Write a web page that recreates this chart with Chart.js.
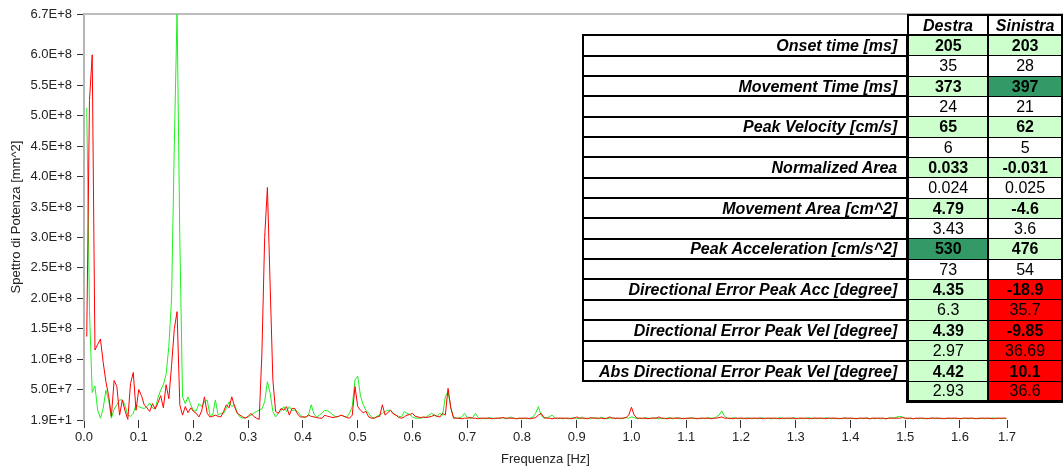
<!DOCTYPE html>
<html>
<head>
<meta charset="utf-8">
<script src="https://cdn.jsdelivr.net/npm/chart.js@4/dist/chart.umd.min.js"></script>
<style>
  html, body { margin:0; padding:0; background:#fff; }
  #wrap { position:relative; width:1063px; height:468px; overflow:hidden; }
  #grafico { display:block; }
  #tabella { position:absolute; left:582px; top:14px; border-collapse:collapse; table-layout:fixed;
             font-family:'Liberation Sans', Arial, sans-serif; font-size:16px; color:#000; }
  #tabella tr { height:20.35px; }
  #tabella td { padding:0; line-height:17px; white-space:nowrap; overflow:hidden; }
  #tabella td.etichetta { border:2px solid #000; text-align:right; font-weight:bold; font-style:italic; padding-right:9px; background:#fff; }
  #tabella td.vuota { border:none; }
  #tabella td.intest { border:2px solid #000; font-weight:bold; font-style:italic; text-align:center; background:#fff; }
  #tabella td.val { text-align:center; border-left:2px solid #000; border-right:2px solid #000;
                    border-top:1px solid #000; border-bottom:1px solid #000; background:#fff; }
  #tabella td.dx { border-left:3px solid #000; }
  #tabella td.media { font-weight:bold; }
  #tabella td.ultima { border-bottom:3px solid #000; }
  #tabella td.g { background:#ccffcc; }
  #tabella td.G { background:#339966; }
  #tabella td.r { background:#ff0000; }
</style>
</head>
<body>
<div id="wrap">
  <canvas id="grafico" width="1063" height="468"></canvas>
  <table id="tabella"></table>
</div>
<script>
// ---------- Spectrum data (values in units of 1E+6 mm^2), frequency step 0.005 Hz starting at 0.005 Hz ----------
const FREQ_START = 0.005;
const FREQ_STEP = 0.005;

const spettroSinistra = [
137,525,600,115,124,133,95,63,40,6,
65,55,8,33,15,1,60,78,16,50,
40,25,20,14,27,18,28,40,20,58,
35,90,150,178,25,8,22,12,20,14,
11,5,15,38,11,5,6,8,6,5,
14,25,20,38,22,11,8,5,3,6,
11,6,3,1,110,300,382,222,66,14,
11,19,16,22,8,19,19,10,5,5,
5,8,6,5,4,3,3,8,6,5,
4,5,6,8,6,4,3,8,55,22,
16,12,14,5,3,3,5,6,25,8,
12,16,10,8,4,3,5,8,9,11,
6,5,4,5,4,5,6,8,6,5,
11,8,52,20,3,
3,3,2,3,3,4,3,3,2,3,
3,3,3,2,3,3,3,4,3,3,
3,3,2,3,3,3,3,2,3,4,
8,11,4,3,3,2,3,3,3,3,
3,3,2,3,5,3,3,3,2,4,
3,3,3,3,2,3,5,3,3,3,
3,3,4,8,21,8,3,3,3,3,
2,3,3,3,5,3,3,2,3,3,
3,3,3,2,3,3,3,3,2,3,
3,3,3,2,3,3,4,5,3,3,
3,2,3,3,3,3,2,3,3,3,
3,3,2,3,3,3,3,3,2,3,
3,3,3,3,2,3,3,3,3,2,
3,3,3,3,3,2,3,3,3,3,
2,3,3,3,3,3,2,3,3,3,
3,2,3,3,3,3,3,2,3,3,
3,3,3,4,3,3,3,2,3,3,
3,3,2,3,3,3,3,3,2,3,
3,3,3,3,2,3,3,3,3,3,
2,3,3,3,3,3,2,3,3,3,
3,3
];

const spettroDestra = [
513,180,45,56,16,3,19,49,33,3,
18,25,33,33,24,8,6,11,25,22,
20,19,22,28,20,18,36,49,58,75,
121,200,454,670,300,38,27,38,25,15,
15,27,22,30,33,8,8,33,8,11,
11,19,30,22,25,11,5,3,4,5,
8,11,14,16,18,30,63,44,14,5,
11,16,22,14,22,16,16,14,8,5,
4,8,25,10,5,8,12,16,15,12,
8,5,6,8,6,5,11,22,66,72,
40,25,16,11,5,3,6,8,11,14,
16,16,11,8,6,5,14,11,9,5,
3,3,3,4,5,8,11,8,6,11,
8,38,47,20,5,
3,3,5,11,4,3,4,11,4,2,
3,2,4,3,2,3,3,4,2,3,
5,3,2,3,2,3,2,3,5,11,
22,8,3,4,5,8,4,2,3,2,
3,2,3,4,2,3,5,2,3,2,
4,3,2,5,3,2,3,4,2,3,
2,3,4,3,5,4,2,3,2,4,
3,2,4,3,2,3,2,3,4,2,
3,4,2,3,2,3,4,2,3,2,
3,2,4,3,3,5,8,15,6,3,
2,4,3,2,3,2,4,3,2,3,
2,3,4,2,3,2,3,2,4,3,
2,3,2,4,3,2,3,2,3,4,
2,3,2,3,2,4,3,2,3,2,
3,2,4,2,3,2,3,2,3,2,
4,2,3,2,3,2,3,2,3,4,
3,5,6,5,3,2,3,2,3,2,
3,2,3,2,4,2,3,2,3,2,
3,2,3,2,3,2,3,2,3,2,
3,2,3,2,3,2,4,2,3,2,
3,2
];

// Axis ticks
const xTickValori = [0,0.1,0.2,0.3,0.4,0.5,0.6,0.7,0.8,0.9,1.0,1.1,1.2,1.3,1.4,1.5,1.6,1.686];
const xTickEtichette = ['0.0','0.1','0.2','0.3','0.4','0.5','0.6','0.7','0.8','0.9','1.0','1.1','1.2','1.3','1.4','1.5','1.6','1.7'];
const yTickValori = [19,5e7,1e8,1.5e8,2e8,2.5e8,3e8,3.5e8,4e8,4.5e8,5e8,5.5e8,6e8,6.67e8];
const yTickEtichette = ['1.9E+1','5.0E+7','1.0E+8','1.5E+8','2.0E+8','2.5E+8','3.0E+8','3.5E+8','4.0E+8','4.5E+8','5.0E+8','5.5E+8','6.0E+8','6.7E+8'];

// ---------- Table data ----------
const parametri = ['Onset time [ms]','Movement Time [ms]','Peak Velocity [cm/s]','Normalized Area','Movement Area [cm^2]',
  'Peak Acceleration [cm/s^2]','Directional Error Peak Acc [degree]','Directional Error Peak Vel [degree]','Abs Directional Error Peak Vel [degree]'];
const destraMedia   = ['205','373','65','0.033','4.79','530','4.35','4.39','4.42'];
const destraDS      = ['35','24','6','0.024','3.43','73','6.3','2.97','2.93'];
const sinistraMedia = ['203','397','62','-0.031','-4.6','476','-18.9','-9.85','10.1'];
const sinistraDS    = ['28','21','5','0.025','3.6','54','35.7','36.69','36.6'];
// cell status: g = in range (light green), G = above (dark green), r = out of range (red), '' = none
const destraMediaStato   = ['g','g','g','g','g','G','g','g','g'];
const destraDSStato      = ['','','','','','','g','g','g'];
const sinistraMediaStato = ['g','G','g','g','g','g','r','r','r'];
const sinistraDSStato    = ['','','','','','','r','r','r'];

// ---------- Build table ----------
(function () {
  const t = document.getElementById('tabella');
  const cg = document.createElement('colgroup');
  [325, 81, 74].forEach(w => { const c = document.createElement('col'); c.style.width = w + 'px'; cg.appendChild(c); });
  t.appendChild(cg);
  const addRow = (cells) => {
    const tr = document.createElement('tr');
    cells.forEach(([txt, cls]) => { const td = document.createElement('td'); td.className = cls; td.textContent = txt; tr.appendChild(td); });
    t.appendChild(tr);
  };
  addRow([['', 'vuota'], ['Destra', 'intest'], ['Sinistra', 'intest']]);
  parametri.forEach((p, i) => {
    addRow([[p, 'etichetta'], [destraMedia[i], 'val dx media ' + destraMediaStato[i]], [sinistraMedia[i], 'val media ' + sinistraMediaStato[i]]]);
    const last = i === parametri.length - 1;
    addRow([['', last ? 'vuota' : 'etichetta'], [destraDS[i], 'val dx ' + destraDSStato[i] + (last ? ' ultima' : '')], [sinistraDS[i], 'val ' + sinistraDSStato[i] + (last ? ' ultima' : '')]]);
  });
})();

// ---------- Chart ----------
const frequenze = spettroDestra.map((_, k) => +(FREQ_START + k * FREQ_STEP).toFixed(4));
const punti = (serie) => serie.map((v, k) => ({ x: frequenze[k], y: v * 1e6 }));

const bordoSuperiore = {
  id: 'bordoSuperiore',
  beforeDatasetsDraw(chart) {
    const { ctx, chartArea } = chart;
    ctx.save();
    ctx.strokeStyle = '#bdbdbd';
    ctx.lineWidth = 2;
    ctx.beginPath();
    ctx.moveTo(chartArea.left, chartArea.top);
    ctx.lineTo(chart.width, chartArea.top);
    ctx.stroke();
    ctx.restore();
  }
};

const fontTick = { family: "'Liberation Sans', Arial, sans-serif", size: 13 };

new Chart(document.getElementById('grafico'), {
  type: 'line',
  data: {
    datasets: [
      { label: 'Sinistra', data: punti(spettroSinistra), borderColor: '#ff0000', borderWidth: 1, pointRadius: 0, tension: 0, order: 0 },
      { label: 'Destra', data: punti(spettroDestra), borderColor: '#1ef01e', borderWidth: 1, pointRadius: 0, tension: 0, order: 1 }
    ]
  },
  options: {
    responsive: false,
    animation: false,
    devicePixelRatio: 1,
    layout: { padding: { left: 0, right: 56, top: 14, bottom: 0 } },
    plugins: { legend: { display: false }, tooltip: { enabled: false } },
    scales: {
      x: {
        type: 'linear', min: 0, max: 1.686,
        afterBuildTicks: (s) => { s.ticks = xTickValori.map(v => ({ value: v })); },
        afterFit: (s) => { s.height = 48; },
        ticks: { autoSkip: false, maxRotation: 0, padding: 2, color: '#222', font: fontTick,
                 callback: (v, i) => xTickEtichette[i] },
        grid: { display: true, drawOnChartArea: false, drawTicks: true, tickLength: 8, color: '#333' },
        border: { display: false },
        title: { display: true, text: 'Frequenza [Hz]', color: '#222', font: fontTick, padding: { top: 0, bottom: 1 } }
      },
      y: {
        type: 'linear', min: 19, max: 6.67e8,
        afterBuildTicks: (s) => { s.ticks = yTickValori.map(v => ({ value: v })); },
        afterFit: (s) => { s.width = 84; },
        ticks: { autoSkip: false, padding: 5, color: '#222', font: fontTick,
                 callback: (v, i) => yTickEtichette[i] },
        grid: { display: true, drawOnChartArea: false, drawTicks: true, tickLength: 7, color: '#333' },
        border: { display: true, color: '#b5b5b5', width: 2 },
        title: { display: true, text: 'Spettro di Potenza [mm^2]', color: '#222', font: fontTick, padding: { top: 9, bottom: 0 } }
      }
    }
  },
  plugins: [bordoSuperiore]
});
</script>
</body>
</html>
